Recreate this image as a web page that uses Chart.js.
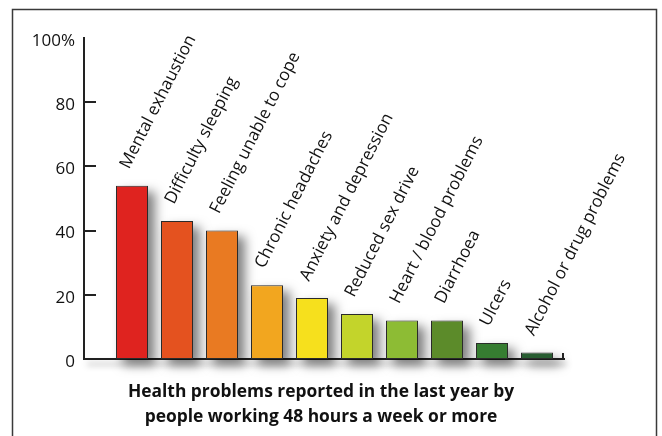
<!DOCTYPE html>
<html>
<head>
<meta charset="utf-8">
<script src="https://cdn.jsdelivr.net/npm/chart.js@4"></script>
<style>
html,body{margin:0;padding:0;background:#fff;}
#wrap{width:662px;height:436px;position:relative;}
</style>
</head>
<body>
<div id="wrap"><canvas id="c" width="662" height="436"></canvas></div>
<script>
// ---- data ----
const categories = [
  "Mental exhaustion",
  "Difficulty sleeping",
  "Feeling unable to cope",
  "Chronic headaches",
  "Anxiety and depression",
  "Reduced sex drive",
  "Heart / blood problems",
  "Diarrhoea",
  "Ulcers",
  "Alcohol or drug problems"
];
const values = [54, 43, 40, 23, 19, 14, 12, 12, 5, 2];
const barColors = [
  "#df231f", "#e4521f", "#e97a22", "#f2a61f", "#f6e01d",
  "#c3d42b", "#8dbc34", "#5c8b2a", "#367d31", "#285d31"
];
const yTicks = [0, 20, 40, 60, 80, 100];
const yTickLabels = ["0", "20", "40", "60", "80", "100%"];
const titleLines = [
  "Health problems reported in the last year by",
  "people working 48 hours a week or more"
];

const AXIS = "#222";
const LABEL_FONT = "17px 'Open Sans'";
const TITLE_FONT = "bold 17.4px 'Open Sans'";

const framePlugin = {
  id: 'frame',
  beforeDraw(chart) {
    const ctx = chart.ctx;
    ctx.save();
    ctx.fillStyle = "#fff";
    ctx.fillRect(0, 0, chart.width, chart.height);
    ctx.strokeStyle = "#3a3a3a";
    ctx.lineWidth = 1.5;
    ctx.strokeRect(12.5, 9.5, 644, 520);
    ctx.restore();
  }
};

// soft drop shadow behind each bar, using the bar elements' own geometry
const shadowPlugin = {
  id: 'barShadow',
  beforeDatasetsDraw(chart) {
    const ctx = chart.ctx;
    const meta = chart.getDatasetMeta(0);
    ctx.save();
    const OFF = 2000;
    ctx.shadowColor = "rgba(0,0,0,0.5)";
    ctx.shadowBlur = 11;
    ctx.shadowOffsetX = OFF + 7;
    ctx.shadowOffsetY = 6;
    ctx.fillStyle = "#000";
    meta.data.forEach(el => {
      const w = el.width;
      ctx.fillRect(el.x - w / 2 - OFF, el.y, w, el.base - el.y);
    });
    const a = chart.chartArea;
    ctx.shadowBlur = 6;
    ctx.shadowOffsetY = 5;
    ctx.shadowOffsetX = OFF + 3;
    ctx.shadowColor = "rgba(0,0,0,0.35)";
    ctx.fillRect(a.left - OFF, a.bottom - 1, a.right - a.left, 2);
    ctx.restore();
  }
};

const labelPlugin = {
  id: 'barLabels',
  afterDatasetsDraw(chart) {
    const ctx = chart.ctx;
    const meta = chart.getDatasetMeta(0);
    ctx.save();
    ctx.fillStyle = "#111";
    ctx.font = LABEL_FONT;
    ctx.textAlign = "left";
    ctx.textBaseline = "alphabetic";
    meta.data.forEach((el, i) => {
      ctx.save();
      ctx.translate(el.x - 3, el.y - 16);
      ctx.rotate(-63 * Math.PI / 180);
      ctx.fillText(categories[i], 0, 0);
      ctx.restore();
    });
    ctx.restore();
  }
};

const axisPlugin = {
  id: 'axisMarks',
  afterDraw(chart) {
    const ctx = chart.ctx;
    const y = chart.scales.y;
    const a = chart.chartArea;
    ctx.save();
    ctx.strokeStyle = AXIS;
    ctx.lineWidth = 2;
    yTicks.forEach(v => {
      if (v === 0 || v === 100) return;
      const py = Math.round(y.getPixelForValue(v));
      ctx.beginPath();
      ctx.moveTo(a.left, py);
      ctx.lineTo(a.left + 12, py);
      ctx.stroke();
    });
    ctx.beginPath();
    ctx.moveTo(a.right - 1, a.bottom);
    ctx.lineTo(a.right - 1, a.bottom - 6);
    ctx.stroke();
    // caption under the chart
    ctx.fillStyle = "#111";
    ctx.font = TITLE_FONT;
    ctx.textAlign = "center";
    ctx.textBaseline = "middle";
    const cx = chart.width / 2 - 10;
    titleLines.forEach((t, i) => ctx.fillText(t, cx, a.bottom + 33 + i * 25.5));
    ctx.restore();
  }
};

function build() {
  new Chart(document.getElementById('c'), {
    type: 'bar',
    data: {
      datasets: [{
        data: values.map((v, i) => ({ x: i, y: v })),
        backgroundColor: barColors,
        borderColor: "#2a2a2a",
        borderWidth: 1,
        borderSkipped: false,
        barPercentage: 32 / 45,
        categoryPercentage: 1
      }]
    },
    plugins: [framePlugin, shadowPlugin, labelPlugin, axisPlugin],
    options: {
      responsive: false,
      animation: false,
      layout: { padding: { left: 0, right: 98, top: 38, bottom: 58 } },
      plugins: {
        legend: { display: false },
        tooltip: { enabled: false },
        title: { display: false }
      },
      scales: {
        x: {
          type: 'linear',
          offset: false,
          min: -1.067,
          max: 9.6,
          grid: { display: false, drawTicks: false },
          border: { display: true, color: AXIS, width: 2 },
          ticks: { display: false },
          afterFit(scale) { scale.height = 19; }
        },
        y: {
          min: 0,
          max: 100,
          afterBuildTicks(scale) { scale.ticks = yTicks.map(v => ({ value: v })); },
          grid: { display: false, drawTicks: false },
          border: { display: true, color: AXIS, width: 2 },
          ticks: {
            color: "#111",
            font: { family: "Open Sans", size: 17 },
            padding: 9,
            labelOffset: 3,
            callback: (v) => yTickLabels[yTicks.indexOf(v)]
          },
          afterFit(scale) { scale.width = 84; }
        }
      }
    }
  });
}

Promise.all([
  document.fonts.load(LABEL_FONT),
  document.fonts.load(TITLE_FONT)
]).then(build, build);
</script>
</body>
</html>
